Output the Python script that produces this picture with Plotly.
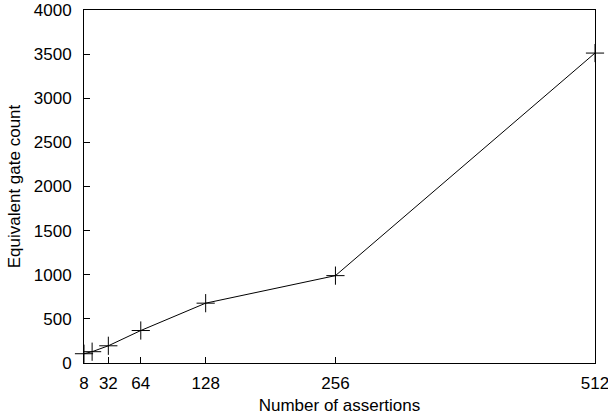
import plotly.graph_objects as go

assertions = [8, 16, 32, 64, 128, 256, 512]
gate_count = [105, 128, 195, 368, 678, 990, 3512]
x_ticks = [8, 32, 64, 128, 256, 512]
y_ticks = [0, 500, 1000, 1500, 2000, 2500, 3000, 3500, 4000]

fig = go.Figure()
fig.add_trace(go.Scatter(
    x=assertions, y=gate_count, mode="lines+markers",
    line=dict(color="black", width=1),
    marker=dict(symbol="cross-thin-open", size=13, line=dict(color="black", width=1)),
    showlegend=False, cliponaxis=False,
))

fam = "Liberation Sans, Arial, sans-serif"
font = dict(family=fam, size=17, color="black")
fig.update_layout(
    width=608, height=419,
    margin=dict(l=84, r=13, t=10, b=56, autoexpand=False),
    paper_bgcolor="white", plot_bgcolor="white",
    font=font,
)
fig.update_xaxes(
    range=[8, 512], tickvals=x_ticks, ticktext=[str(v) for v in x_ticks],
    ticks="inside", ticklen=6, tickcolor="black", tickfont=font,
    ticklabelstandoff=5, ticklabeloverflow="allow",
    showline=True, linecolor="black", linewidth=1, mirror=True,
    showgrid=False, zeroline=False, automargin=False,
    title=dict(text="Number of assertions", standoff=6, font=font),
)
fig.update_yaxes(
    range=[0, 4000], tickvals=y_ticks,
    ticks="inside", ticklen=6, tickcolor="black", tickfont=font,
    ticklabelstandoff=8, ticklabeloverflow="allow",
    showline=True, linecolor="black", linewidth=1, mirror=True,
    showgrid=False, zeroline=False, automargin=False,
    title=dict(text="Equivalent gate count", standoff=8, font=font),
)

fig.write_html("out.html", config={"displayModeBar": False},
               post_script="document.body.style.margin='0';")
